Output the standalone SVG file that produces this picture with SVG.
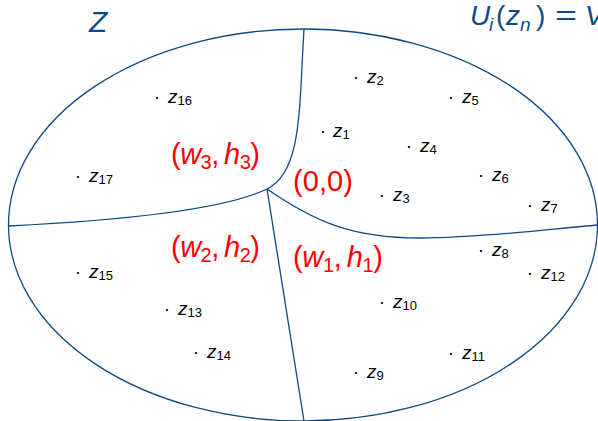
<svg xmlns="http://www.w3.org/2000/svg" width="598" height="421" viewBox="0 0 598 421">
<style>
.bd{fill:none;stroke:#0d4a86;stroke-width:1.3}
.lbl{font-family:"Liberation Sans",Arial,sans-serif;font-size:19px;fill:#000}
.it{font-style:italic}
.sub{font-size:13px}
.dot{font-family:"Liberation Sans",Arial,sans-serif;font-size:19px;fill:#000;text-anchor:middle}
.red{font-family:"Liberation Sans",Arial,sans-serif;font-size:29px;fill:#ff0000}
.rsub{font-size:20px}
.blue{font-family:"Liberation Sans",Arial,sans-serif;fill:#0d4a86}
</style>
<rect width="598" height="421" fill="#fff"/>
<g id="region-Z">
<ellipse class="bd" cx="303" cy="225" rx="294.5" ry="196"/>
<text class="blue it" x="89" y="32" font-size="30">Z</text>
</g>
<g id="connectors">
<path class="bd" d="M304 29 C299 110 302 172 267 189 C228 208 130 220 9 226"/>
<path class="bd" d="M267 189 C315 222 352 238 420 238 C480 238 550 229 598 225"/>
<path class="bd" d="M267 189 L304 421"/>
</g>
<g id="equation">
<text class="blue" y="25" font-size="28"><tspan class="it" x="470">U</tspan><tspan class="it" font-size="19" x="489" y="31">i</tspan><tspan x="496" y="25">(</tspan><tspan class="it" x="506">z</tspan><tspan class="it" font-size="19" x="520" y="31">n</tspan><tspan x="536" y="25">)</tspan><tspan class="it" x="585">V</tspan></text>
<text class="blue" x="555" y="25" font-size="28" textLength="22" lengthAdjust="spacingAndGlyphs">=</text>
</g>
<g id="cell-00"><text class="red" x="293" y="191" textLength="60" lengthAdjust="spacing">(0,0)</text></g>
<g id="cell-w3h3"><text class="red" x="171" y="164" textLength="89" lengthAdjust="spacing">(<tspan class="it">w</tspan><tspan class="rsub" dy="5">3</tspan><tspan dy="-5">,&#8201;</tspan><tspan class="it">h</tspan><tspan class="rsub" dy="5">3</tspan><tspan dy="-5">)</tspan></text></g>
<g id="cell-w2h2"><text class="red" x="171" y="257" textLength="89" lengthAdjust="spacing">(<tspan class="it">w</tspan><tspan class="rsub" dy="5">2</tspan><tspan dy="-5">,&#8201;</tspan><tspan class="it">h</tspan><tspan class="rsub" dy="5">2</tspan><tspan dy="-5">)</tspan></text></g>
<g id="cell-w1h1"><text class="red" x="293" y="267" textLength="90" lengthAdjust="spacing">(<tspan class="it">w</tspan><tspan class="rsub" dy="5">1</tspan><tspan dy="-5">,&#8201;</tspan><tspan class="it">h</tspan><tspan class="rsub" dy="5">1</tspan><tspan dy="-5">)</tspan></text></g>
<g id="z1"><text class="dot" x="323" y="137">·</text><text class="lbl" x="333" y="137"><tspan class="it">z</tspan><tspan class="sub" dy="2">1</tspan></text></g>
<g id="z2"><text class="dot" x="356" y="83">·</text><text class="lbl" x="367" y="83"><tspan class="it">z</tspan><tspan class="sub" dy="2">2</tspan></text></g>
<g id="z3"><text class="dot" x="382" y="201">·</text><text class="lbl" x="393" y="201"><tspan class="it">z</tspan><tspan class="sub" dy="2">3</tspan></text></g>
<g id="z4"><text class="dot" x="409" y="152">·</text><text class="lbl" x="420" y="152"><tspan class="it">z</tspan><tspan class="sub" dy="2">4</tspan></text></g>
<g id="z5"><text class="dot" x="451" y="103">·</text><text class="lbl" x="462" y="103"><tspan class="it">z</tspan><tspan class="sub" dy="2">5</tspan></text></g>
<g id="z6"><text class="dot" x="481" y="181">·</text><text class="lbl" x="492" y="181"><tspan class="it">z</tspan><tspan class="sub" dy="2">6</tspan></text></g>
<g id="z7"><text class="dot" x="530" y="211">·</text><text class="lbl" x="541" y="211"><tspan class="it">z</tspan><tspan class="sub" dy="2">7</tspan></text></g>
<g id="z8"><text class="dot" x="481" y="256">·</text><text class="lbl" x="492" y="256"><tspan class="it">z</tspan><tspan class="sub" dy="2">8</tspan></text></g>
<g id="z9"><text class="dot" x="356" y="378">·</text><text class="lbl" x="367" y="378"><tspan class="it">z</tspan><tspan class="sub" dy="2">9</tspan></text></g>
<g id="z10"><text class="dot" x="382" y="308">·</text><text class="lbl" x="393" y="308"><tspan class="it">z</tspan><tspan class="sub" dy="2">10</tspan></text></g>
<g id="z11"><text class="dot" x="451" y="359">·</text><text class="lbl" x="462" y="359"><tspan class="it">z</tspan><tspan class="sub" dy="2">11</tspan></text></g>
<g id="z12"><text class="dot" x="530" y="279">·</text><text class="lbl" x="541" y="279"><tspan class="it">z</tspan><tspan class="sub" dy="2">12</tspan></text></g>
<g id="z13"><text class="dot" x="167" y="315">·</text><text class="lbl" x="178" y="315"><tspan class="it">z</tspan><tspan class="sub" dy="2">13</tspan></text></g>
<g id="z14"><text class="dot" x="196" y="358">·</text><text class="lbl" x="207" y="358"><tspan class="it">z</tspan><tspan class="sub" dy="2">14</tspan></text></g>
<g id="z15"><text class="dot" x="78" y="278">·</text><text class="lbl" x="89" y="278"><tspan class="it">z</tspan><tspan class="sub" dy="2">15</tspan></text></g>
<g id="z16"><text class="dot" x="157" y="103">·</text><text class="lbl" x="168" y="103"><tspan class="it">z</tspan><tspan class="sub" dy="2">16</tspan></text></g>
<g id="z17"><text class="dot" x="78" y="182">·</text><text class="lbl" x="89" y="182"><tspan class="it">z</tspan><tspan class="sub" dy="2">17</tspan></text></g>
</svg>
